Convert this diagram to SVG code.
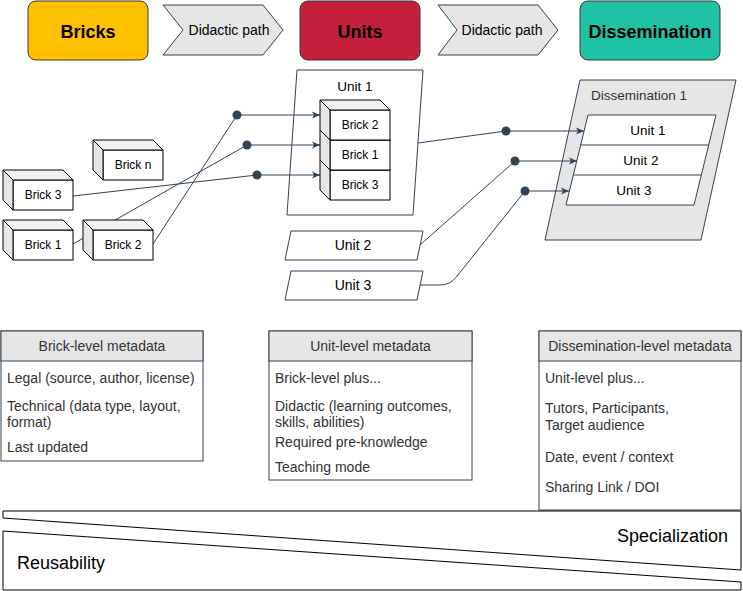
<svg xmlns="http://www.w3.org/2000/svg" width="743" height="591" viewBox="0 0 743 591">
<defs>
<marker id="arr" markerUnits="userSpaceOnUse" markerWidth="10" markerHeight="8" refX="8" refY="4" orient="auto">
<path d="M0,0.5 L8,4 L0,7.5 L2,4 Z" fill="#314354"/>
</marker>
</defs>
<style>
text{font-family:"Liberation Sans",Arial,Helvetica,sans-serif;fill:#000}
.hdr{font-size:18px;font-weight:bold;text-anchor:middle}
.chev{fill:#E6E6E6;stroke:#314354;stroke-width:1}
.chevt{font-size:14px;text-anchor:middle}
.front{fill:#fff;stroke:#000;stroke-width:1}
.top{fill:#F2F2F2;stroke:#000;stroke-width:1;stroke-linejoin:round}
.side{fill:#E6E6E6;stroke:#000;stroke-width:1;stroke-linejoin:round}
.bt{font-size:12px;text-anchor:middle}
.par{fill:#fff;stroke:#314354;stroke-width:1}
.ut{font-size:13.5px;text-anchor:middle}
.ut14{font-size:14px;text-anchor:middle}
.con{fill:none;stroke:#314354;stroke-width:1}
.dot{fill:#314354}
.mbox{fill:#fff;stroke:#314354;stroke-width:1}
.mhead{fill:#E6E6E6;stroke:#314354;stroke-width:1}
.mt{font-size:14px;fill:#333}
.mh{font-size:14px;fill:#333;text-anchor:middle}
.wedge{fill:#fff;stroke:#000;stroke-width:1}
.wt{font-size:18px}
</style>

<!-- header -->
<g id="bricks-header">
<rect x="28" y="1" width="120" height="59" rx="8" fill="#FFC000" stroke="#36393D"/>
<text class="hdr" x="88" y="37.5">Bricks</text>
</g>
<g id="path1">
<polygon class="chev" points="163,5 263,5 283,30 263,55 163,55 183,30"/>
<text class="chevt" x="229" y="35">Didactic path</text>
</g>
<g id="units-header">
<rect x="300" y="1" width="120" height="59" rx="8" fill="#C4203C" stroke="#36393D"/>
<text class="hdr" x="360" y="37.5">Units</text>
</g>
<g id="path2">
<polygon class="chev" points="438,5 538,5 558,30 538,55 438,55 457,30"/>
<text class="chevt" x="502" y="35">Didactic path</text>
</g>
<g id="dissemination-header">
<rect x="580" y="1" width="140" height="59" rx="8" fill="#20C2A6" stroke="#36393D"/>
<text class="hdr" x="650" y="37.5">Dissemination</text>
</g>

<!-- containers -->
<g id="unit1">
<polygon class="par" points="297,70 423,70 413,215 287,215"/>
<text class="ut" x="355" y="90.5">Unit 1</text>
</g>
<g id="dissemination1">
<polygon points="580,80 736,80 701,240 545,240" fill="#E6E6E6" stroke="#314354"/>
<text class="ut" x="639" y="100" style="fill:#333">Dissemination 1</text>
</g>

<!-- connectors -->
<g id="connectors">
<line class="con" x1="73" y1="244" x2="247" y2="145"/>
<line class="con" x1="153" y1="244" x2="237" y2="115"/>
<line class="con" x1="73" y1="196" x2="257" y2="175"/>
<circle class="dot" cx="237" cy="115" r="4.5"/>
<circle class="dot" cx="247" cy="145" r="4.5"/>
<circle class="dot" cx="257" cy="175" r="4.5"/>
<line class="con" x1="237" y1="115" x2="320" y2="115" marker-end="url(#arr)"/>
<line class="con" x1="247" y1="145" x2="320" y2="145" marker-end="url(#arr)"/>
<line class="con" x1="257" y1="175" x2="320" y2="175" marker-end="url(#arr)"/>
<line class="con" x1="418" y1="143" x2="506" y2="131"/>
<line class="con" x1="420" y1="245" x2="515" y2="161"/>
<path class="con" d="M420,285 L440,285 Q450,285 456.2,277.2 L525,191"/>
<circle class="dot" cx="506" cy="131" r="4.5"/>
<circle class="dot" cx="515" cy="161" r="4.5"/>
<circle class="dot" cx="525" cy="191" r="4.5"/>
<line class="con" x1="506" y1="131" x2="584" y2="131" marker-end="url(#arr)"/>
<line class="con" x1="515" y1="161" x2="577" y2="161" marker-end="url(#arr)"/>
<line class="con" x1="525" y1="191" x2="569" y2="191" marker-end="url(#arr)"/>
</g>

<!-- bricks -->
<g id="brick-n">
<rect class="front" x="103" y="150" width="60" height="30"/>
<polygon class="top" points="93,140 153,140 163,150 103,150"/>
<polygon class="side" points="93,140 103,150 103,180 93,170"/>
<text class="bt" x="133" y="169.3">Brick n</text>
</g>
<g id="brick-3">
<rect class="front" x="13" y="180" width="60" height="30"/>
<polygon class="top" points="3,170 63,170 73,180 13,180"/>
<polygon class="side" points="3,170 13,180 13,210 3,200"/>
<text class="bt" x="43" y="199.3">Brick 3</text>
</g>
<g id="brick-1">
<rect class="front" x="13" y="230" width="60" height="30"/>
<polygon class="top" points="3,220 63,220 73,230 13,230"/>
<polygon class="side" points="3,220 13,230 13,260 3,250"/>
<text class="bt" x="43" y="249.3">Brick 1</text>
</g>
<g id="brick-2">
<rect class="front" x="93" y="230" width="60" height="30"/>
<polygon class="top" points="83,220 143,220 153,230 93,230"/>
<polygon class="side" points="83,220 93,230 93,260 83,250"/>
<text class="bt" x="123" y="249.3">Brick 2</text>
</g>

<!-- bricks inside unit 1 -->
<g id="u1-brick-3">
<rect class="front" x="330" y="170" width="60" height="30"/>
<polygon class="top" points="320,160 380,160 390,170 330,170"/>
<polygon class="side" points="320,160 330,170 330,200 320,190"/>
<text class="bt" x="360" y="189.3">Brick 3</text>
</g>
<g id="u1-brick-1">
<rect class="front" x="330" y="140" width="60" height="30"/>
<polygon class="top" points="320,130 380,130 390,140 330,140"/>
<polygon class="side" points="320,130 330,140 330,170 320,160"/>
<text class="bt" x="360" y="159.3">Brick 1</text>
</g>
<g id="u1-brick-2">
<rect class="front" x="330" y="110" width="60" height="30"/>
<polygon class="top" points="320,100 380,100 390,110 330,110"/>
<polygon class="side" points="320,100 330,110 330,140 320,130"/>
<text class="bt" x="360" y="129.3">Brick 2</text>
</g>

<g id="unit2">
<polygon class="par" points="291,231 423,231 417,260 285,260"/>
<text class="ut14" x="353" y="250">Unit 2</text>
</g>
<g id="unit3">
<polygon class="par" points="291,271 423,271 417,300 285,300"/>
<text class="ut14" x="353" y="290">Unit 3</text>
</g>

<!-- units list inside dissemination 1 -->
<g id="d1-units">
<polygon class="par" points="588,115 716,115 694,205 566,205"/>
<line class="con" x1="580.7" y1="145" x2="708.7" y2="145"/>
<line class="con" x1="573.3" y1="175" x2="701.3" y2="175"/>
<text class="ut" x="648" y="134.8">Unit 1</text>
<text class="ut" x="641" y="164.8">Unit 2</text>
<text class="ut" x="634" y="194.8">Unit 3</text>
</g>

<!-- metadata -->
<g id="brick-metadata">
<rect class="mbox" x="1" y="331" width="202" height="130"/>
<rect class="mhead" x="1" y="331" width="202" height="30"/>
<text class="mh" x="102" y="351">Brick-level metadata</text>
<text class="mt" x="7" y="383">Legal (source, author, license)</text>
<text class="mt" x="7" y="411">Technical (data type, layout,</text>
<text class="mt" x="7" y="427">format)</text>
<text class="mt" x="7" y="452">Last updated</text>
</g>
<g id="unit-metadata">
<rect class="mbox" x="269" y="331" width="203" height="149"/>
<rect class="mhead" x="269" y="331" width="203" height="30"/>
<text class="mh" x="370.5" y="351">Unit-level metadata</text>
<text class="mt" x="275" y="383">Brick-level plus...</text>
<text class="mt" x="275" y="411">Didactic (learning outcomes,</text>
<text class="mt" x="275" y="427">skills, abilities)</text>
<text class="mt" x="275" y="447">Required pre-knowledge</text>
<text class="mt" x="275" y="472">Teaching mode</text>
</g>
<g id="dissemination-metadata">
<rect class="mbox" x="539" y="331" width="202" height="179"/>
<rect class="mhead" x="539" y="331" width="202" height="30"/>
<text class="mh" x="640" y="351">Dissemination-level metadata</text>
<text class="mt" x="545" y="383">Unit-level plus...</text>
<text class="mt" x="545" y="413">Tutors, Participants,</text>
<text class="mt" x="545" y="430">Target audience</text>
<text class="mt" x="545" y="462">Date, event / context</text>
<text class="mt" x="545" y="492">Sharing Link / DOI</text>
</g>

<!-- wedges -->
<g id="specialization">
<polygon class="wedge" points="3,511 741,511 741,570 3,518"/>
<text class="wt" x="728" y="542" text-anchor="end">Specialization</text>
</g>
<g id="reusability">
<polygon class="wedge" points="3,531 741,582 741,590 3,590"/>
<text class="wt" x="17" y="569">Reusability</text>
</g>
</svg>
